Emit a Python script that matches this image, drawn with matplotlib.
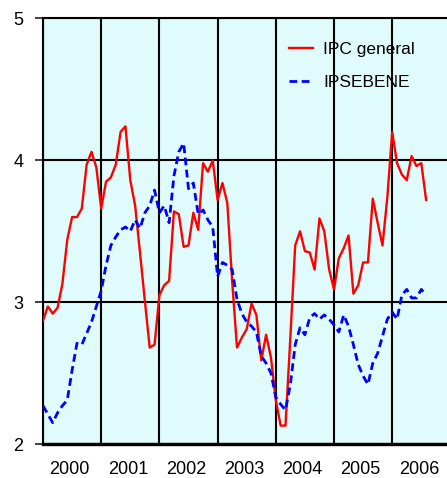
import matplotlib
matplotlib.use("Agg")
import matplotlib.pyplot as plt
import numpy as np

plt.rcParams['font.family'] = ['Liberation Sans', 'DejaVu Sans']

# Datos mensuales, enero 2000 - agosto 2006
years = ['2000', '2001', '2002', '2003', '2004', '2005', '2006']

ipc_general = [
    2.87, 2.97, 2.92, 2.96, 3.13, 3.44, 3.60, 3.60, 3.66, 3.97, 4.06, 3.95,  # 2000
    3.66, 3.85, 3.88, 3.97, 4.20, 4.24, 3.86, 3.68, 3.35, 3.01, 2.68, 2.70,  # 2001
    3.05, 3.12, 3.15, 3.64, 3.62, 3.39, 3.40, 3.63, 3.51, 3.98, 3.92, 4.00,  # 2002
    3.72, 3.84, 3.70, 3.15, 2.68, 2.75, 2.81, 2.99, 2.91, 2.59, 2.77, 2.61,  # 2003
    2.31, 2.13, 2.13, 2.75, 3.40, 3.50, 3.36, 3.35, 3.23, 3.59, 3.50, 3.23,  # 2004
    3.09, 3.31, 3.38, 3.47, 3.06, 3.12, 3.28, 3.28, 3.73, 3.56, 3.40, 3.74,  # 2005
    4.20, 3.98, 3.90, 3.86, 4.03, 3.96, 3.98, 3.72,                          # 2006
]

ipsebene = [
    2.27, 2.21, 2.15, 2.22, 2.27, 2.31, 2.52, 2.71, 2.70, 2.78, 2.86, 2.97,  # 2000
    3.08, 3.26, 3.40, 3.46, 3.51, 3.53, 3.50, 3.58, 3.52, 3.63, 3.68, 3.79,  # 2001
    3.63, 3.68, 3.56, 3.89, 4.06, 4.12, 3.80, 3.84, 3.62, 3.65, 3.58, 3.53,  # 2002
    3.18, 3.28, 3.26, 3.23, 3.02, 2.92, 2.86, 2.83, 2.79, 2.62, 2.57, 2.50,  # 2003
    2.33, 2.28, 2.24, 2.42, 2.70, 2.82, 2.77, 2.89, 2.92, 2.88, 2.91, 2.88,  # 2004
    2.84, 2.79, 2.91, 2.83, 2.70, 2.56, 2.48, 2.42, 2.57, 2.64, 2.76, 2.88,  # 2005
    2.93, 2.88, 3.05, 3.09, 3.03, 3.03, 3.09, 3.05,                          # 2006
]

months = np.arange(len(ipc_general))

fig = plt.figure(figsize=(4.47, 4.78), dpi=100)
ax = fig.add_axes([0.0962, 0.0711, 0.9038, 0.8902])
ax.set_facecolor('#e0fbfb')

ax.plot(months, ipc_general, color='#ff0000', lw=1.7, label='IPC general', zorder=3)
ax.plot(months, ipsebene, color='#0000ff', lw=2.0, linestyle=(0, (2.8, 1.6)),
        label='IPSEBENE', zorder=3)

ax.set_xlim(0, 83.3)
ax.set_ylim(2, 5)

# lineas de separacion de anios
ax.set_xticks(np.arange(0, 84, 12))
ax.set_xticklabels([])
ax.tick_params(axis='x', which='major', length=0)
ax.set_xticks(np.arange(len(years)) * 12 + 5.5, minor=True)
ax.set_xticklabels(years, minor=True, fontsize=13)
ax.tick_params(axis='x', which='minor', length=0, pad=12)

ax.set_yticks([2, 3, 4, 5])
ax.set_yticklabels(['2', '3', '4', '5'], fontsize=13)
ax.tick_params(axis='y', length=6, width=1.3, color='#333333', pad=8)

ax.grid(True, which='major', color='black', lw=1.5)
ax.set_axisbelow(True)

for side in ['top', 'left']:
    ax.spines[side].set_linewidth(1.5)
ax.spines['bottom'].set_linewidth(2.4)
ax.spines['right'].set_visible(False)

ax.legend(loc='upper left', bbox_to_anchor=(0.647, 0.912), bbox_transform=fig.transFigure,
          frameon=False, fontsize=12.5, handlelength=1.35, handletextpad=0.6,
          labelspacing=1.0, borderpad=0, borderaxespad=0)

fig.savefig('out.png', dpi=100)
